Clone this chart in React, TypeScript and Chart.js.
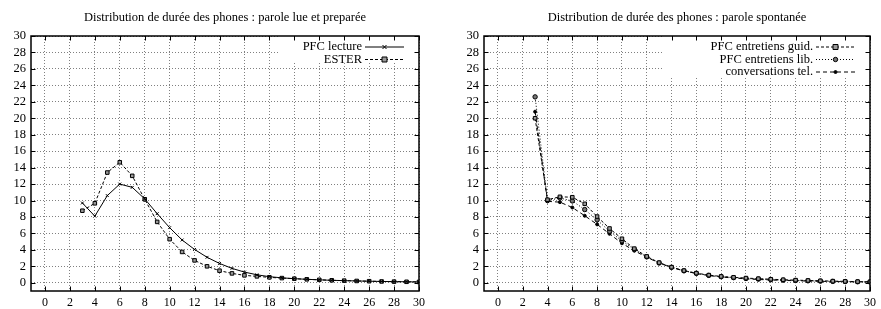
import React, { useEffect, useRef } from "react";
import { Chart, registerables } from "chart.js";

Chart.register(...registerables);

// ---- data ----
const xValues = [3, 4, 5, 6, 7, 8, 9, 10, 11, 12, 13, 14, 15, 16, 17, 18, 19, 20, 21, 22, 23, 24, 25, 26, 27, 28, 29, 30];
const xTicks = [0, 2, 4, 6, 8, 10, 12, 14, 16, 18, 20, 22, 24, 26, 28, 30];
const yTicks = [0, 2, 4, 6, 8, 10, 12, 14, 16, 18, 20, 22, 24, 26, 28, 30];

const pfcLecture = [9.7, 8.1, 10.6, 12.0, 11.6, 10.2, 8.4, 6.7, 5.2, 4.05, 3.1, 2.35, 1.75, 1.3, 0.97, 0.74, 0.6, 0.5, 0.42, 0.36, 0.3, 0.26, 0.22, 0.19, 0.16, 0.14, 0.12, 0.1];
const ester = [8.76, 9.66, 13.4, 14.65, 13.0, 10.15, 7.4, 5.3, 3.75, 2.72, 2.0, 1.47, 1.14, 0.9, 0.78, 0.66, 0.57, 0.5, 0.42, 0.36, 0.3, 0.26, 0.22, 0.19, 0.16, 0.14, 0.12, 0.1];

const pfcGuid = [20.0, 10.1, 10.45, 10.4, 9.6, 8.05, 6.6, 5.35, 4.15, 3.2, 2.45, 1.9, 1.48, 1.17, 0.93, 0.77, 0.66, 0.57, 0.5, 0.43, 0.37, 0.32, 0.28, 0.24, 0.2, 0.17, 0.14, 0.12];
const pfcLib = [22.6, 10.0, 10.3, 9.95, 8.9, 7.65, 6.25, 5.1, 4.05, 3.15, 2.4, 1.88, 1.45, 1.15, 0.9, 0.74, 0.62, 0.52, 0.45, 0.38, 0.32, 0.28, 0.24, 0.2, 0.17, 0.15, 0.12, 0.1];
const convTel = [20.8, 9.9, 9.8, 9.15, 8.15, 7.1, 5.95, 4.8, 3.9, 3.1, 2.4, 1.85, 1.45, 1.12, 0.88, 0.7, 0.58, 0.48, 0.4, 0.34, 0.29, 0.25, 0.21, 0.18, 0.15, 0.13, 0.11, 0.09];

const titleLeft = "Distribution de durée des phones : parole lue et preparée";
const titleRight = "Distribution de durée des phones : parole spontanée";

const FONT = "'Liberation Serif', 'Times New Roman', serif";

type Series = {
  label: string;
  values: number[];
  dash: number[];
  pointStyle: string;
  radius: number;
  fill: string;
};

const leftSeries: Series[] = [
  { label: "PFC lecture", values: pfcLecture, dash: [], pointStyle: "crossRot", radius: 2, fill: "#000" },
  { label: "ESTER", values: ester, dash: [3, 2], pointStyle: "rect", radius: 2.5, fill: "#999" },
];
const rightSeries: Series[] = [
  { label: "PFC entretiens guid.", values: pfcGuid, dash: [3, 2], pointStyle: "rect", radius: 2.5, fill: "#999" },
  { label: "PFC entretiens lib.", values: pfcLib, dash: [1, 2], pointStyle: "circle", radius: 2.2, fill: "#777" },
  { label: "conversations tel.", values: convTel, dash: [4, 3], pointStyle: "circle", radius: 1.5, fill: "#000" },
];

function drawMarker(ctx: CanvasRenderingContext2D, s: Series, x: number, y: number) {
  ctx.save();
  ctx.setLineDash([]);
  ctx.strokeStyle = "#000";
  ctx.fillStyle = s.fill;
  ctx.lineWidth = 1;
  const r = s.radius;
  ctx.beginPath();
  if (s.pointStyle === "rect") {
    ctx.rect(x - r, y - r, 2 * r, 2 * r);
    ctx.fill();
    ctx.stroke();
  } else if (s.pointStyle === "circle") {
    ctx.arc(x, y, r, 0, Math.PI * 2);
    ctx.fill();
    ctx.stroke();
  } else {
    ctx.moveTo(x - r, y - r);
    ctx.lineTo(x + r, y + r);
    ctx.moveTo(x + r, y - r);
    ctx.lineTo(x - r, y + r);
    ctx.stroke();
  }
  ctx.restore();
}

function makePlugin(series: Series[], keyW: number, keyH: number) {
  return {
    id: "gnuplotDecor",
    beforeDatasetsDraw(chart: any) {
      const { ctx, chartArea } = chart;
      ctx.save();
      ctx.fillStyle = "#fff";
      ctx.fillRect(chartArea.right - keyW, chartArea.top, keyW, keyH);
      ctx.restore();
    },
    afterDatasetsDraw(chart: any) {
      const { ctx, chartArea } = chart;
      const xs = chart.scales.x;
      const ys = chart.scales.y;
      ctx.save();
      // legend
      ctx.font = `12.5px ${FONT}`;
      ctx.fillStyle = "#000";
      ctx.textAlign = "right";
      ctx.textBaseline = "middle";
      series.forEach((s, i) => {
        const y = chartArea.top + 11 + i * 12.5;
        ctx.fillText(s.label, chartArea.right - 57, y);
        ctx.beginPath();
        ctx.setLineDash(s.dash);
        ctx.lineWidth = 1;
        ctx.strokeStyle = "#000";
        ctx.moveTo(chartArea.right - 54, y);
        ctx.lineTo(chartArea.right - 15, y);
        ctx.stroke();
        drawMarker(ctx, s, chartArea.right - 34.5, y);
      });
      // frame
      ctx.setLineDash([]);
      ctx.strokeStyle = "#000";
      ctx.lineWidth = 1.5;
      ctx.strokeRect(chartArea.left, chartArea.top, chartArea.right - chartArea.left, chartArea.bottom - chartArea.top);
      // inward ticks
      ctx.lineWidth = 1;
      ctx.beginPath();
      xTicks.forEach((v) => {
        const px = Math.round(xs.getPixelForValue(v)) + 0.5;
        ctx.moveTo(px, chartArea.bottom);
        ctx.lineTo(px, chartArea.bottom - 4.5);
        ctx.moveTo(px, chartArea.top);
        ctx.lineTo(px, chartArea.top + 4.5);
      });
      yTicks.forEach((v) => {
        const py = Math.round(ys.getPixelForValue(v)) + 0.5;
        ctx.moveTo(chartArea.left, py);
        ctx.lineTo(chartArea.left + 4.5, py);
        ctx.moveTo(chartArea.right, py);
        ctx.lineTo(chartArea.right - 4.5, py);
      });
      ctx.stroke();
      ctx.restore();
    },
  };
}

function Panel(props: {
  title: string;
  series: Series[];
  width: number;
  yAxisWidth: number;
  rightPad: number;
  keyW: number;
  keyH: number;
  left: number;
}) {
  const ref = useRef<HTMLCanvasElement | null>(null);
  useEffect(() => {
    if (!ref.current) return;
    const { series } = props;
    const gridOpts = {
      color: "#808080",
      lineWidth: 1,
      drawTicks: false,
      borderDash: [1, 2],
    };
    const chart = new Chart(ref.current, {
      type: "line",
      data: {
        datasets: series.map((s) => ({
          label: s.label,
          data: xValues.map((x, i) => ({ x, y: s.values[i] })),
          borderColor: "#000",
          borderWidth: 1,
          borderDash: s.dash,
          pointStyle: s.pointStyle as any,
          pointRadius: s.radius,
          pointBorderWidth: 1,
          pointBorderColor: "#000",
          pointBackgroundColor: s.fill,
          tension: 0,
          fill: false,
        })),
      },
      options: {
        animation: false,
        responsive: false,
        devicePixelRatio: 1,
        layout: { padding: { left: 0, right: props.rightPad, top: 0, bottom: 0 } },
        plugins: {
          legend: { display: false },
          tooltip: { enabled: false },
          title: {
            display: true,
            text: props.title,
            fullSize: false,
            color: "#000",
            font: { family: FONT, size: 12.5, weight: "normal" },
            padding: { top: 10, bottom: 11 },
          },
        },
        scales: {
          x: {
            type: "linear",
            min: -1.12,
            max: 30,
            afterBuildTicks: (s: any) => {
              s.ticks = xTicks.map((v) => ({ value: v }));
            },
            afterFit: (s: any) => {
              s.height = 29;
            },
            ticks: {
              color: "#000",
              font: { family: FONT, size: 12 },
              padding: 5,
              maxRotation: 0,
              autoSkip: false,
            },
            grid: gridOpts,
            border: { display: false, dash: [1, 2] },
          },
          y: {
            type: "linear",
            min: -1,
            max: 30,
            afterBuildTicks: (s: any) => {
              s.ticks = yTicks.map((v) => ({ value: v }));
            },
            afterFit: (s: any) => {
              s.width = props.yAxisWidth;
            },
            ticks: {
              color: "#000",
              font: { family: FONT, size: 12.5 },
              padding: 5,
              autoSkip: false,
            },
            grid: gridOpts,
            border: { display: false, dash: [1, 2] },
          },
        },
      },
      plugins: [makePlugin(series, props.keyW, props.keyH)],
    } as any);
    return () => chart.destroy();
  }, []);
  return (
    <canvas
      ref={ref}
      width={props.width}
      height={320}
      style={{ position: "absolute", left: props.left, top: 0, width: props.width, height: 320 }}
    />
  );
}

export default function App() {
  return (
    <div
      style={{
        position: "fixed",
        left: 0,
        top: 0,
        width: 881,
        height: 309,
        overflow: "hidden",
        background: "#fff",
      }}
    >
      <Panel title={titleLeft} series={leftSeries} width={440} yAxisWidth={31} rightPad={21} keyW={141} keyH={27} left={0} />
      <Panel title={titleRight} series={rightSeries} width={441} yAxisWidth={44} rightPad={8} keyW={208} keyH={42} left={440} />
    </div>
  );
}
